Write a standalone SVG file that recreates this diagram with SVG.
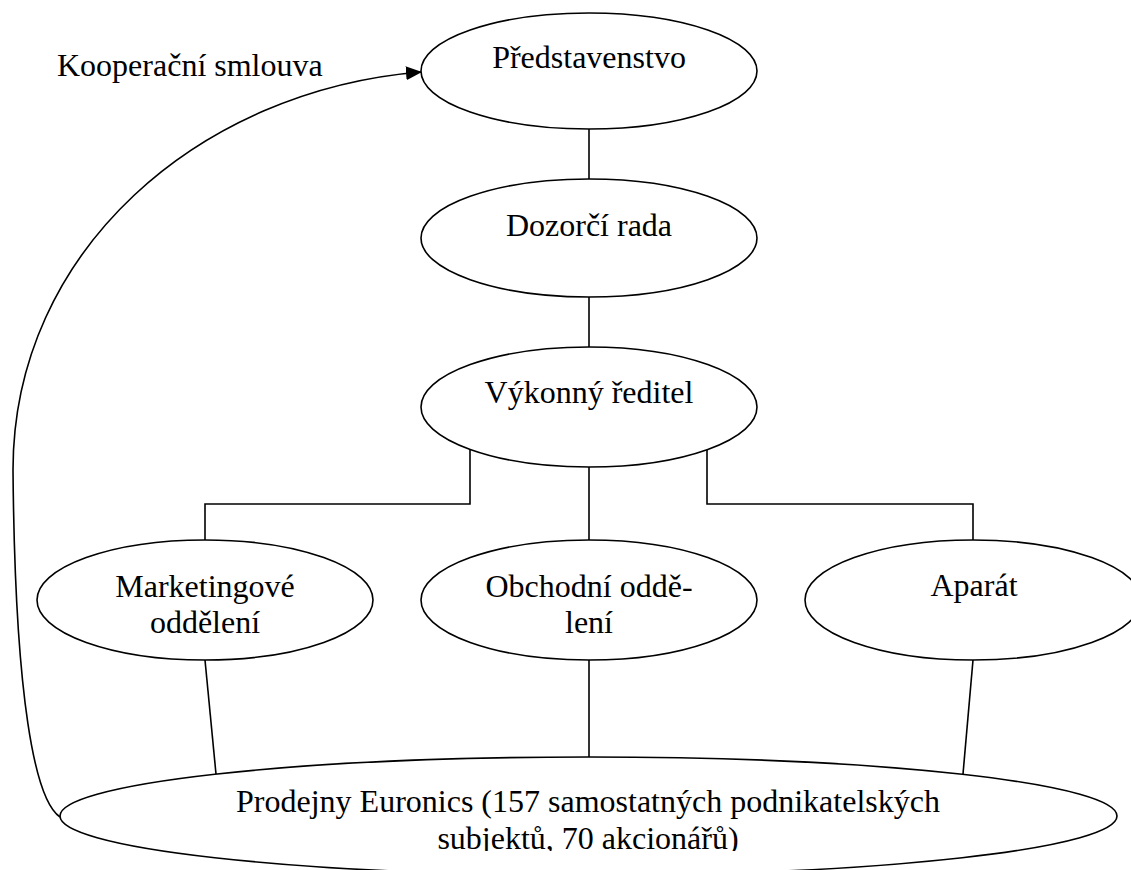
<svg xmlns="http://www.w3.org/2000/svg" width="1131" height="870" viewBox="0 0 1131 870">
<style>
.node{fill:#fff;stroke:#000;stroke-width:1.6}
.lbl{font-family:"Liberation Serif","Times New Roman",serif;font-size:32px;fill:#000;text-anchor:middle}
.ln{fill:none;stroke:#000;stroke-width:1.6}
</style>
<defs>
<marker id="arr" markerUnits="userSpaceOnUse" markerWidth="16" markerHeight="14" refX="15" refY="7" orient="auto">
<path d="M0,0 L16,7 L0,14 Z" fill="#000"/>
</marker>
<clipPath id="clipBottom"><rect x="0" y="0" width="1131" height="851"/></clipPath>
</defs>
<rect width="1131" height="870" fill="#fff"/>
<g id="connectors">
<line class="ln" x1="589" y1="129" x2="589" y2="179"/>
<line class="ln" x1="589" y1="297" x2="589" y2="347"/>
<polyline class="ln" points="470,449 470,504 205,504 205,540"/>
<polyline class="ln" points="707,449 707,504 973,504 973,540"/>
<line class="ln" x1="589" y1="467" x2="589" y2="540"/>
<line class="ln" x1="205" y1="660" x2="216" y2="774"/>
<line class="ln" x1="589" y1="660" x2="589" y2="757"/>
<line class="ln" x1="973" y1="660" x2="963" y2="774"/>
<path class="ln" d="M60,817 C35,800 15,700 13,470 C13,250 200,90 421,72" marker-end="url(#arr)"/>
<text x="57" y="76" style="font-family:'Liberation Serif','Times New Roman',serif;font-size:32px;fill:#000">Kooperační smlouva</text>
</g>
<g id="predstavenstvo">
<ellipse class="node" cx="589" cy="71" rx="168" ry="58"/>
<text class="lbl" x="589" y="68">Představenstvo</text>
</g>
<g id="dozorci-rada">
<ellipse class="node" cx="589" cy="238" rx="168" ry="59"/>
<text class="lbl" x="589" y="236">Dozorčí rada</text>
</g>
<g id="vykonny-reditel">
<ellipse class="node" cx="589" cy="407" rx="168" ry="60"/>
<text class="lbl" x="589" y="403">Výkonný ředitel</text>
</g>
<g id="marketing">
<ellipse class="node" cx="205" cy="600" rx="168" ry="60"/>
<text class="lbl" x="205" y="597">Marketingové</text>
<text class="lbl" x="205" y="633">oddělení</text>
</g>
<g id="obchodni">
<ellipse class="node" cx="589" cy="600" rx="168" ry="60"/>
<text class="lbl" x="589" y="597">Obchodní oddě-</text>
<text class="lbl" x="589" y="633">lení</text>
</g>
<g id="aparat">
<ellipse class="node" cx="973" cy="600" rx="168" ry="60"/>
<text class="lbl" x="974" y="596">Aparát</text>
</g>
<g id="prodejny">
<ellipse class="node" cx="588.5" cy="816" rx="528.5" ry="59"/>
<g clip-path="url(#clipBottom)">
<text class="lbl" x="588" y="812">Prodejny Euronics (157 samostatných podnikatelských</text>
<text class="lbl" x="588" y="849">subjektů, 70 akcionářů)</text>
</g>
</g>
</svg>
